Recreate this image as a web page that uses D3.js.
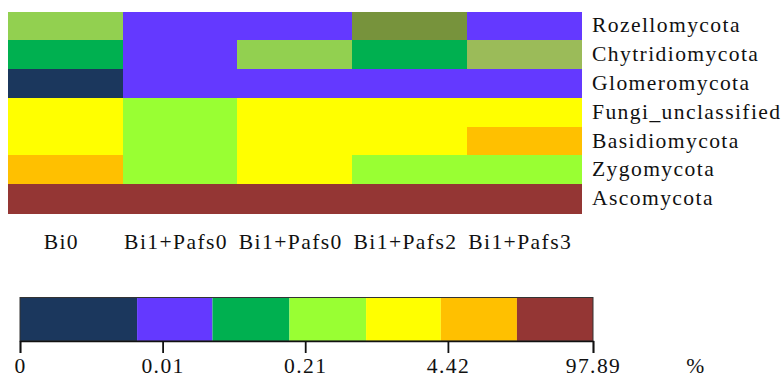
<!DOCTYPE html>
<html>
<head>
<meta charset="utf-8">
<script src="https://cdn.jsdelivr.net/npm/d3@7"></script>
<style>
  html, body { margin: 0; padding: 0; background: #fff; }
  svg { display: block; }
  text { font-family: "Liberation Serif", "Times New Roman", serif; fill: #111; letter-spacing: 1.3px; }
</style>
</head>
<body>
<svg id="chart" width="782" height="377"></svg>
<script>
// Samples (columns) and phyla (rows, top to bottom)
const samples = ["Bi0", "Bi1+Pafs0", "Bi1+Pafs0", "Bi1+Pafs2", "Bi1+Pafs3"];
const phyla = ["Rozellomycota", "Chytridiomycota", "Glomeromycota",
               "Fungi_unclassified", "Basidiomycota", "Zygomycota", "Ascomycota"];

// Abundance class of each cell, one array per phylum
const rozellomycota     = ["G3", "L1", "L1", "G1", "L1"];
const chytridiomycota   = ["L2", "L1", "G3", "L2", "G2"];
const glomeromycota     = ["L0", "L1", "L1", "L1", "L1"];
const fungiUnclassified = ["L4", "L3", "L4", "L4", "L4"];
const basidiomycota     = ["L4", "L3", "L4", "L4", "L5"];
const zygomycota        = ["L5", "L3", "L4", "L3", "L3"];
const ascomycota        = ["L6", "L6", "L6", "L6", "L6"];
const cellClasses = [rozellomycota, chytridiomycota, glomeromycota,
                     fungiUnclassified, basidiomycota, zygomycota, ascomycota];

// Class keys and their fill colours
const classKeys   = ["L0", "L1", "G1", "L2", "G2", "G3", "L3", "L4", "L5", "L6"];
const classColors = ["#1B375D", "#6439FF", "#77933C", "#00B050", "#9BBB59",
                     "#92D050", "#99FF33", "#FFFF00", "#FFC000", "#943634"];

// Colour key: tick labels (%) and class breaks
const legendTicks = [0, 0.01, 0.21, 4.42, 97.89];
const legendBreaks = [0.0058, 0.029, 0.15, 0.77, 3.8, 19.3];
const legendClasses = ["L0", "L1", "L2", "L3", "L4", "L5", "L6"];

const svg = d3.select("#chart");
const stretch = 1.08;   // slightly wide-set serif lettering

const color = d3.scaleOrdinal().domain(classKeys).range(classColors);

// ---- heatmap ----
const hm = { left: 8, right: 581.5, top: 11.5, bottom: 213 };
const x = d3.scaleBand().domain(d3.range(samples.length)).range([hm.left, hm.right]);
const y = d3.scaleBand().domain(phyla).range([hm.top, hm.bottom]);

const cells = phyla.flatMap((p, r) => cellClasses[r].map((c, i) => ({ phylum: p, col: i, cls: c })));

svg.append("g")
  .selectAll("rect")
  .data(cells)
  .join("rect")
  .attr("x", d => x(d.col))
  .attr("y", d => y(d.phylum))
  .attr("width", x.bandwidth() + 0.5)
  .attr("height", y.bandwidth() + 0.5)
  .attr("fill", d => color(d.cls))
  .attr("shape-rendering", "crispEdges");

// row labels on the right
svg.append("g")
  .selectAll("text")
  .data(phyla)
  .join("text")
  .attr("transform", d => `translate(${hm.right + 10.5},${y(d) + y.bandwidth() / 2}) scale(${stretch},1)`)
  .attr("dy", "0.33em")
  .attr("font-size", 20)
  .text(d => d);

// column labels below
svg.append("g")
  .selectAll("text")
  .data(samples)
  .join("text")
  .attr("transform", (d, i) => `translate(${x(i) + x.bandwidth() / 2 - 4},248.5) scale(${stretch},1)`)
  .attr("text-anchor", "middle")
  .attr("font-size", 20)
  .text(d => d);

// ---- colour key ----
const key = { left: 20, right: 593, top: 297.5, bottom: 341 };
// the "0" tick sits one geometric step below the first non-zero tick
const zeroAnchor = legendTicks[1] * legendTicks[1] / legendTicks[2];
const kx = d3.scaleLog().domain([zeroAnchor, legendTicks[legendTicks.length - 1]]).range([key.left, key.right]);
const keyEdges = [zeroAnchor, ...legendBreaks, legendTicks[legendTicks.length - 1]];

svg.append("g")
  .selectAll("rect")
  .data(legendClasses)
  .join("rect")
  .attr("x", (d, i) => kx(keyEdges[i]))
  .attr("y", key.top)
  .attr("width", (d, i) => kx(keyEdges[i + 1]) - kx(keyEdges[i]))
  .attr("height", key.bottom - key.top)
  .attr("fill", d => color(d));

svg.append("rect")
  .attr("x", key.left)
  .attr("y", key.top)
  .attr("width", key.right - key.left)
  .attr("height", key.bottom - key.top)
  .attr("fill", "none")
  .attr("stroke", "#333")
  .attr("stroke-width", 1);

const tickVals = [zeroAnchor, ...legendTicks.slice(1)];
const axis = d3.axisBottom(kx)
  .tickValues(tickVals)
  .tickSize(12)
  .tickPadding(5.5)
  .tickFormat((d, i) => String(legendTicks[i]));

const ag = svg.append("g").attr("transform", `translate(0,${key.bottom})`).call(axis);
ag.select(".domain").attr("stroke", "#111").attr("stroke-width", 1.5);
ag.selectAll(".tick line").attr("stroke", "#111").attr("stroke-width", 1.8);
ag.selectAll(".tick text")
  .attr("font-family", "Liberation Serif, Times New Roman, serif")
  .attr("font-size", 20)
  .attr("fill", "#111")
  .attr("transform", `scale(${stretch},1)`)
  .attr("x", 0);

// unit label
svg.append("text")
  .attr("transform", `translate(696,372.5) scale(${stretch},1)`)
  .attr("text-anchor", "middle")
  .attr("font-size", 20)
  .text("%");
</script>
</body>
</html>
